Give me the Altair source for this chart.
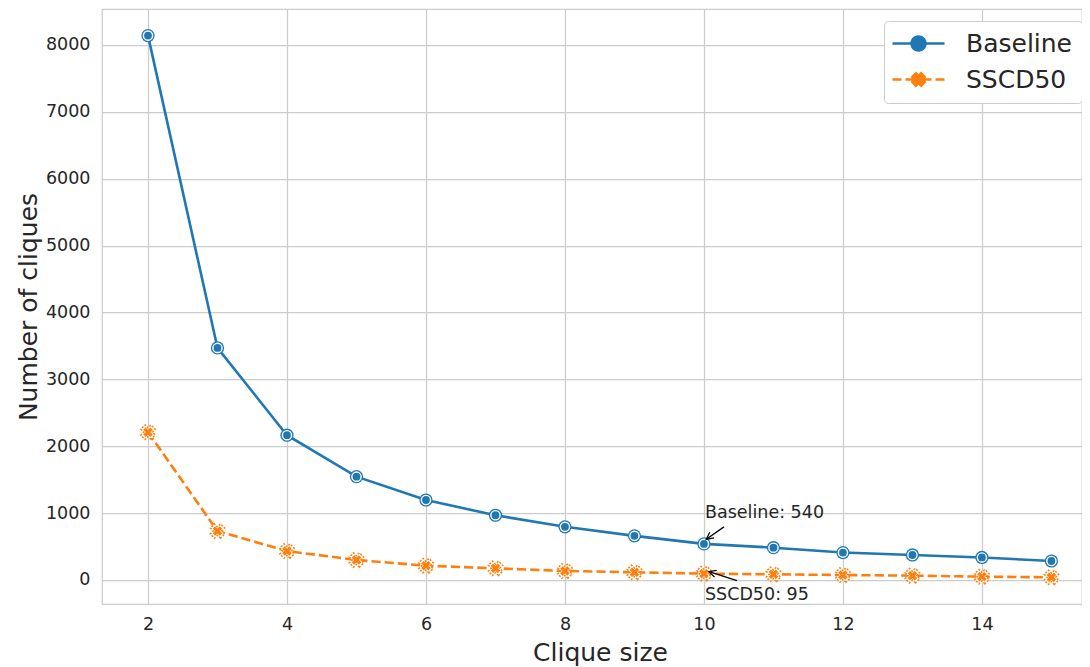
import math
import altair as alt
import pandas as pd

# ---------------- data ----------------
clique_size = list(range(2, 16))
baseline = [8140, 3470, 2165, 1545, 1196, 968, 795, 660, 540, 483, 410, 374, 337, 284]
sscd50 = [2210, 732, 433, 299, 214, 175, 135, 115, 95, 85, 74, 65, 50, 40]
series_names = ["Baseline", "SSCD50"]
series_colors = ["#1f77b4", "#ff7f0e"]
x_ticks = [2, 4, 6, 8, 10, 12, 14]
y_ticks = [0, 1000, 2000, 3000, 4000, 5000, 6000, 7000, 8000]
ann_size = [10, 10]
ann_count = [540, 95]
ann_label = ["Baseline: 540", "SSCD50: 95"]

df = pd.DataFrame({
    "size": clique_size * 2,
    "count": baseline + sscd50,
    "series": [series_names[0]] * len(clique_size) + [series_names[1]] * len(clique_size),
})
dfb = df[df["series"] == "Baseline"]
dfs = df[df["series"] == "SSCD50"]
ann = pd.DataFrame({"size": ann_size, "count": ann_count, "label": ann_label})
ann_b = ann.iloc[[0]]
ann_s = ann.iloc[[1]]

FONT = "DejaVu Sans"
TXT = "#262626"
GRID = "#cccccc"


# ---------------- symbol paths (pixel units, used with size=4) ----------------
def poly(pts, dx=0.0):
    return "M" + "L".join(f"{x + dx:.2f},{y:.2f}" for x, y in pts) + "Z"


def x_pts(e, a):
    pts = [(e, a), (a, a), (a, e), (-a, e), (-a, a), (-e, a),
           (-e, -a), (-a, -a), (-a, -e), (a, -e), (a, -a), (e, -a)]
    c = math.cos(math.pi / 4)
    return [((x - y) * c, (x + y) * c) for x, y in pts]


def circle_pts(r, n=28):
    return [(r * math.cos(2 * math.pi * i / n), r * math.sin(2 * math.pi * i / n)) for i in range(n)]


X_OUTER = poly(x_pts(7.2, 3.0))
X_INNER = poly(x_pts(5.0, 1.7))
ARROW = "M-7,-3.5L0,0L-7,3.5"

S = 12  # shift of legend glyphs to the right
legend_base = f"M{-26 + S},0H{26 + S}" + poly(circle_pts(7), S)
legend_sscd = (f"M{-26 + S},0H{-17 + S}M{-13 + S},0H{-4 + S}M{4 + S},0H{13 + S}M{17 + S},0H{26 + S}"
               + poly(x_pts(6.2, 2.5), S))

x_scale = alt.Scale(domain=[1.338, 15.44], nice=False, zero=False)
y_scale = alt.Scale(domain=[-359, 8538], nice=False, zero=False)

X = alt.X("size:Q", scale=x_scale,
          axis=alt.Axis(values=x_ticks, title="Clique size", format="d",
                        titleX=498, titleY=56, titleBaseline="alphabetic"))
Y = alt.Y("count:Q", scale=y_scale,
          axis=alt.Axis(values=y_ticks, title="Number of cliques", format="d",
                        titleAngle=270, titleX=-66, titleBaseline="alphabetic"))

base_b = alt.Chart(dfb).encode(x=X, y=Y)
base_s = alt.Chart(dfs).encode(x=X, y=Y)

line_b = base_b.mark_line(color=series_colors[0], strokeWidth=2.6)
pt_b_outer = base_b.mark_point(shape="circle", filled=True, size=175, color=series_colors[0], opacity=1)
pt_b_inner = base_b.mark_point(shape="circle", filled=True, size=85, fill=series_colors[0],
                               stroke="white", strokeWidth=1.4, opacity=1)

line_s = base_s.mark_line(color=series_colors[1], strokeWidth=2.6, strokeDash=[9.25, 4])
pt_s_outer = base_s.mark_point(shape=X_OUTER, size=4, filled=True, fill="white",
                               stroke=series_colors[1], strokeWidth=1.5, strokeDash=[2, 1.5], opacity=1)
pt_s_inner = base_s.mark_point(shape=X_INNER, size=4, filled=True, fill=series_colors[1],
                               strokeWidth=0, opacity=1)

# legend-only layer
leg = alt.Chart(df).mark_point(size=4, opacity=0, filled=True).encode(
    x="size:Q", y="count:Q",
    fill=alt.Fill("series:N", scale=alt.Scale(domain=series_names, range=series_colors), title=None),
    stroke=alt.Stroke("series:N", scale=alt.Scale(domain=series_names, range=series_colors), title=None),
    shape=alt.Shape("series:N", scale=alt.Scale(domain=series_names, range=[legend_base, legend_sscd]), title=None),
)

# annotations
txt_b = alt.Chart(ann_b).mark_text(align="left", baseline="middle", dx=1, dy=-31,
                                   font=FONT, fontSize=17.5, color=TXT).encode(x=X, y=Y, text="label:N")
txt_s = alt.Chart(ann_s).mark_text(align="left", baseline="middle", dx=1, dy=21,
                                   font=FONT, fontSize=17.5, color=TXT).encode(x=X, y=Y, text="label:N")
X2 = alt.X2("size:Q")
Y2 = alt.Y2("count:Q")
arr_b = alt.Chart(ann_b).mark_rule(color="black", strokeWidth=1.3, xOffset=20, yOffset=-17,
                                   x2Offset=2.3, y2Offset=-4.6).encode(x=X, y=Y, x2=X2, y2=Y2)
arr_s = alt.Chart(ann_s).mark_rule(color="black", strokeWidth=1.3, xOffset=33, yOffset=7,
                                   x2Offset=5, y2Offset=-2).encode(x=X, y=Y, x2=X2, y2=Y2)
head_b = alt.Chart(ann_b).mark_point(shape=ARROW, size=4, filled=False, color="black", strokeWidth=1.3,
                                     angle=142.9, xOffset=2.3, yOffset=-4.6, opacity=1).encode(x=X, y=Y)
head_s = alt.Chart(ann_s).mark_point(shape=ARROW, size=4, filled=False, color="black", strokeWidth=1.3,
                                     angle=197.8, xOffset=5, yOffset=-2, opacity=1).encode(x=X, y=Y)

chart = alt.layer(
    leg, line_b, pt_b_outer, pt_b_inner, line_s, pt_s_outer, pt_s_inner,
    arr_b, head_b, arr_s, head_s, txt_b, txt_s,
).properties(
    width=980, height=595,
    autosize=alt.AutoSizeParams(type="none"),
    padding={"left": 94, "top": 1, "right": 0, "bottom": 62},
).configure_view(
    stroke=GRID, strokeWidth=1.25,
).configure_axis(
    grid=True, gridColor=GRID, gridWidth=1.25, domain=False, ticks=False,
    labelFont=FONT, labelFontSize=17.5, labelColor=TXT,
    titleFont=FONT, titleFontSize=25, titleColor=TXT, titleFontWeight="normal",
).configure_axisX(
    labelPadding=11,
).configure_axisY(
    labelPadding=12,
).configure_legend(
    orient="none", legendX=782, legendY=12,
    symbolSize=4, symbolStrokeWidth=2.5, symbolOpacity=1,
    labelFont=FONT, labelFontSize=25, labelColor=TXT, labelOffset=47,
    padding=10, rowPadding=10,
    strokeColor=GRID, fillColor="white", cornerRadius=4,
)

chart.save("out.html", embed_options={"renderer": "svg", "actions": False})
